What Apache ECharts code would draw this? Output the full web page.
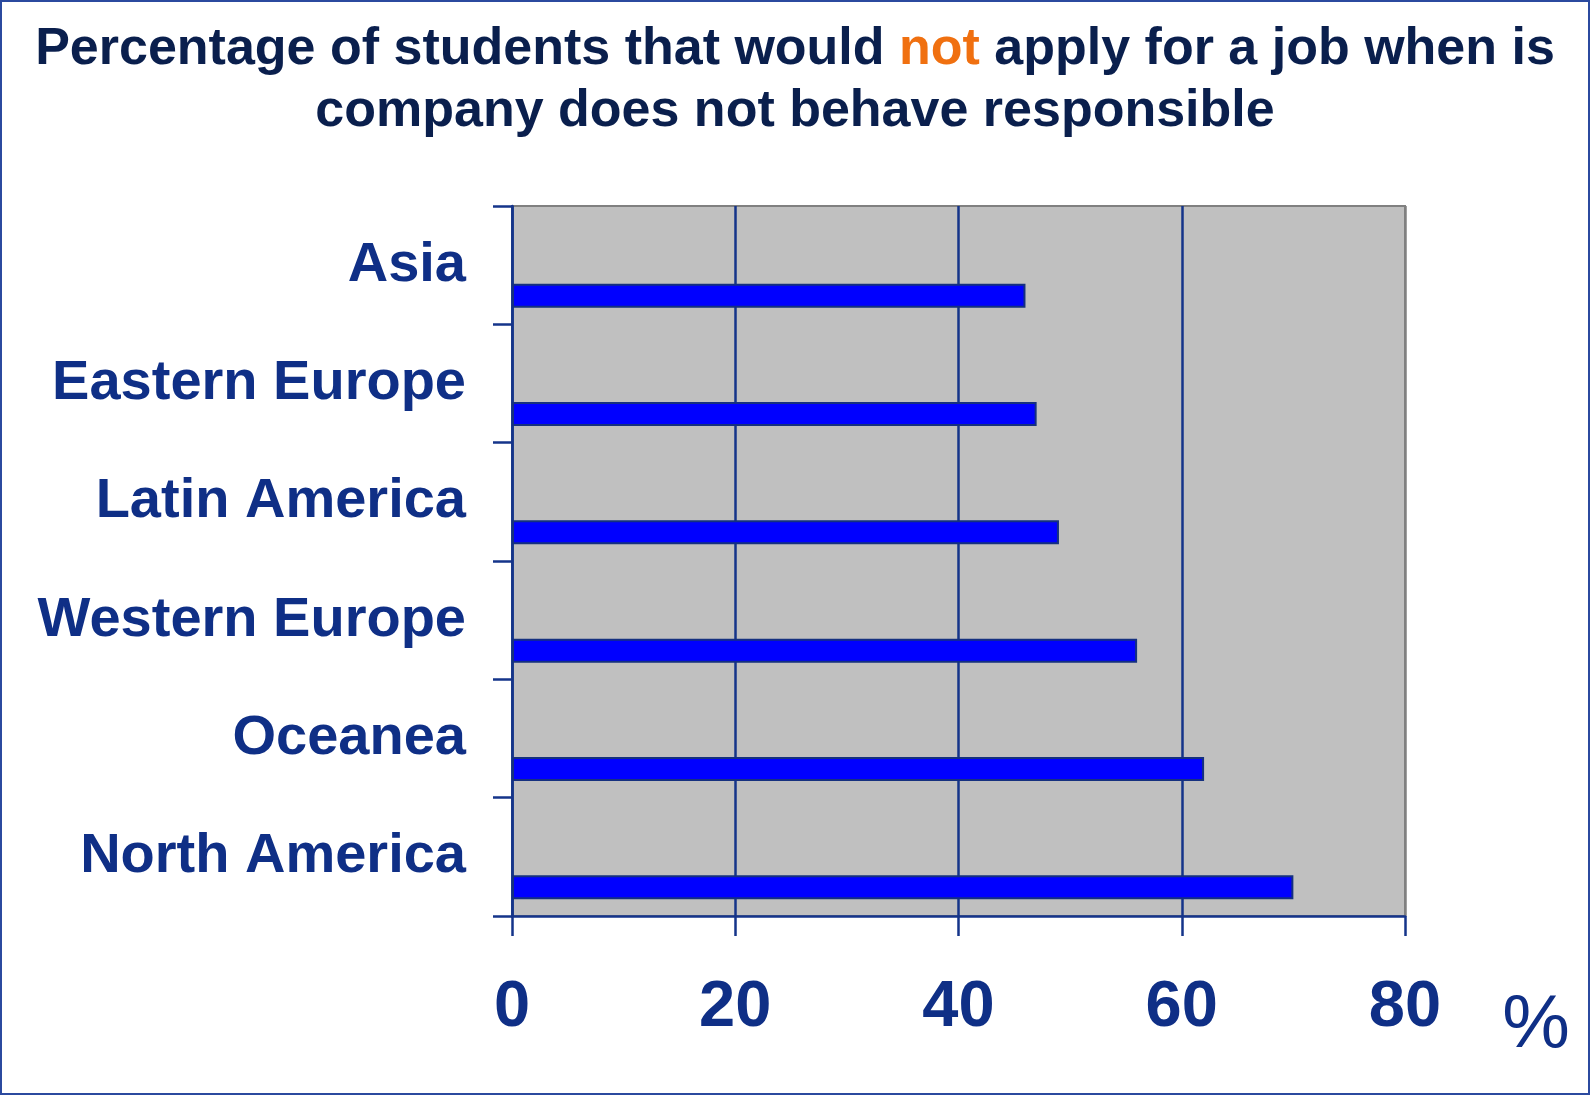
<!DOCTYPE html>
<html>
<head>
<meta charset="utf-8">
<title>Students and responsible companies</title>
<script src="https://cdn.jsdelivr.net/npm/echarts@6/dist/echarts.min.js"></script>
<style>
  html, body { margin: 0; padding: 0; background: #ffffff; }
  #chart { width: 1590px; height: 1095px; }
</style>
</head>
<body>
<div id="chart"></div>
<script>
// Regions, listed top to bottom
const regions = ['Asia', 'Eastern Europe', 'Latin America', 'Western Europe', 'Oceanea', 'North America'];
// Share of students (%) who would not apply
const shareNotApply = [46, 47, 49, 56, 62, 70];
// Value axis ticks
const xTicks = [0, 20, 40, 60, 80];

const navy = '#0f2f86';
const lineBlue = '#15348a';

const chart = echarts.init(document.getElementById('chart'), null, { renderer: 'canvas' });

chart.setOption({
  backgroundColor: '#ffffff',
  animation: false,
  title: {
    left: 'center',
    top: 14,
    text: '{a|Percentage of students that would }{b|not}{a| apply for a job when is}\n{a|company does not behave responsible}',
    textStyle: {
      rich: {
        a: { fontFamily: 'Liberation Sans, Arial, sans-serif', fontWeight: 'bold', fontSize: 52, color: '#0a1f4d', lineHeight: 62, align: 'center' },
        b: { fontFamily: 'Liberation Sans, Arial, sans-serif', fontWeight: 'bold', fontSize: 52, color: '#f07010', lineHeight: 62, align: 'center' }
      }
    }
  },
  grid: {
    left: 512, right: 185, top: 206, bottom: 179,
    show: true,
    backgroundColor: '#c0c0c0',
    borderColor: '#808080',
    borderWidth: 2
  },
  xAxis: {
    type: 'value',
    min: xTicks[0],
    max: xTicks[xTicks.length - 1],
    interval: xTicks[1] - xTicks[0],
    axisLine: { show: true, lineStyle: { color: lineBlue, width: 2.5 } },
    axisTick: { show: true, length: 20, lineStyle: { color: lineBlue, width: 2.5 } },
    axisLabel: {
      margin: 92,
      verticalAlign: 'middle',
      color: navy,
      fontFamily: 'Liberation Sans, Arial, sans-serif',
      fontWeight: 'bold',
      fontSize: 65
    },
    splitLine: {
      show: true,
      lineStyle: { color: [lineBlue, lineBlue, lineBlue, lineBlue, '#808080'], width: 2.5 }
    }
  },
  yAxis: {
    type: 'category',
    data: regions,
    inverse: true,
    axisLine: { show: true, lineStyle: { color: lineBlue, width: 2.5 } },
    axisTick: { show: true, length: 19, lineStyle: { color: lineBlue, width: 2.5 } },
    axisLabel: {
      margin: 46,
      color: navy,
      fontFamily: 'Liberation Sans, Arial, sans-serif',
      fontWeight: 'bold',
      fontSize: 56
    },
    splitLine: { show: false }
  },
  series: [
    {
      // empty companion series keeps the bars in the lower part of each band
      type: 'bar',
      name: 'spacer',
      data: [],
      barWidth: 24,
      barGap: '154%'
    },
    {
      type: 'bar',
      name: 'Would not apply',
      data: shareNotApply,
      barWidth: 24,
      barGap: '154%',
      itemStyle: { color: '#0000ff', borderColor: '#15307f', borderWidth: 2 }
    }
  ],
  graphic: [
    {
      type: 'rect',
      shape: { x: 1, y: 1, width: 1588, height: 1093 },
      style: { fill: 'none', stroke: '#2b4a9f', lineWidth: 2 },
      silent: true
    },
    {
      type: 'text',
      x: 1536, y: 1026,
      style: {
        text: '%',
        fill: navy,
        font: 'normal 76px "Liberation Sans", Arial, sans-serif',
        textAlign: 'center',
        textVerticalAlign: 'middle'
      }
    }
  ]
});
</script>
</body>
</html>
